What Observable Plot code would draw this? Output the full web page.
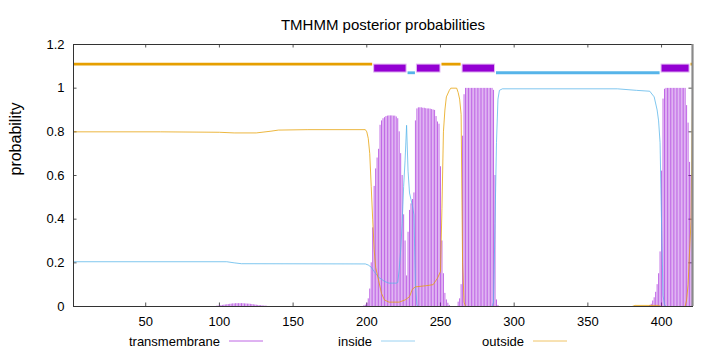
<!DOCTYPE html>
<html><head><meta charset="utf-8">
<script src="https://cdn.jsdelivr.net/npm/d3@7"></script>
<script src="https://cdn.jsdelivr.net/npm/@observablehq/plot@0.6"></script>
<style>body{margin:0;background:#fff;} #chart{width:720px;height:352px;}</style>
</head><body><div id="chart"></div>
<script>
// ---- data ----
const titleText = "TMHMM posterior probabilities";
const yLabelText = "probability";
const seqLength = 421;
const xTicks = [50, 100, 150, 200, 250, 300, 350, 400];
const yTicks = [0, 0.2, 0.4, 0.6, 0.8, 1, 1.2];

const seriesNames = ["transmembrane", "inside", "outside"];
const seriesColors = ["#9400d3", "#56b4e9", "#e69f00"];

// transmembrane posterior (impulses), given per residue in the non-zero stretches
const tmBumpStart = 98;
const tmBump = [0.001,0.002,0.003,0.004,0.005,0.006,0.007,0.008,0.009,0.010,
  0.011,0.012,0.012,0.013,0.013,0.013,0.013,0.013,0.013,0.012,
  0.012,0.011,0.011,0.010,0.009,0.008,0.007,0.006,0.005,0.004,
  0.004,0.003,0.002,0.002,0.001];
const tmCoreStart = 198;
const tmCore = [
  0.003,0.006,0.015,0.035,0.08,0.2,0.36,0.55,0.63,0.68,      // 198-207
  0.72,0.83,0.85,0.86,0.865,0.87,0.872,0.873,0.873,0.873,    // 208-217
  0.872,0.872,0.868,0.86,0.8,0.7,0.6,0.42,0.3,0.14,          // 218-227
  0.34,0.44,0.47,0.49,0.52,0.85,0.905,0.91,0.91,0.91,        // 228-237
  0.908,0.908,0.906,0.905,0.905,0.904,0.902,0.9,0.898,0.87,  // 238-247
  0.845,0.835,0.64,0.3,0.15,0.06,0.03,0.015,0.005,0,         // 248-257
  0,0,0,0,0.02,0.035,0.1,0.78,0.97,0.999,                    // 258-267
  0.999,0.999,0.999,0.999,0.999,0.999,0.999,0.999,0.999,0.999, // 268-277
  0.999,0.999,0.999,0.999,0.999,0.999,0.999,0.999,0.99,0.6,  // 278-287
  0.03,0.005,0,0,0,0,0,0,0,0,0,0,0                           // 288-300
];
const tmTailStart = 392;
const tmTail = [
  0.005,0.01,0.025,0.04,0.065,0.1,0.15,0.25,0.62,0.95,       // 392-401
  0.995,0.999,0.999,0.999,0.999,0.999,0.999,0.999,0.999,0.999, // 402-411
  0.999,0.999,0.999,0.999,0.999,0.92,0.84,0.66,0.6,0.03      // 412-421
];

// inside / outside posterior curves (residue, probability)
const insidePos = [1,105,110,115,199,201,203,205,208,212,215,220,221,222,223,224,225,226,227,228,229,230,231,232,233,234,235,285,286,287,288,289,290,292,370,383,392,395,397,398,399,400,401,402,403,421];
const insideVal = [0.205,0.205,0.2,0.196,0.195,0.19,0.18,0.16,0.134,0.115,0.107,0.107,0.11,0.17,0.26,0.38,0.55,0.67,0.83,0.62,0.52,0.49,0.46,0.42,0.1,0.01,0,0,0.02,0.38,0.75,0.95,0.99,0.997,0.997,0.99,0.986,0.96,0.9,0.85,0.75,0.38,0.05,0.01,0,0];
const outsidePos = [1,60,100,110,125,135,140,160,199,200,201,202,203,204,205,206,208,210,212,215,222,226,229,231,233,240,245,248,250,251,252,253,254,256,257,261,262,263,264,265,266,267,380,382,398,400,416,417,418,419,420,421];
const outsideVal = [0.8,0.8,0.798,0.795,0.795,0.803,0.808,0.81,0.81,0.8,0.77,0.7,0.55,0.4,0.26,0.18,0.12,0.06,0.03,0.02,0.02,0.03,0.045,0.08,0.09,0.095,0.1,0.13,0.16,0.45,0.8,0.9,0.96,0.99,1.0,1.0,0.98,0.95,0.88,0.2,0.02,0,0,0.005,0.005,0,0,0.03,0.1,0.25,0.39,0.97];

// predicted topology (top bar)
const segType  = ["outside","TMhelix","inside","TMhelix","outside","TMhelix","inside","TMhelix","outside"];
const segStart = [1, 205, 228, 234, 251, 265, 288, 400, 420];
const segEnd   = [204, 227, 233, 250, 264, 287, 399, 419, 421];

// ---- build tables ----
function tmValue(i) {
  for (const [s, arr] of [[tmBumpStart, tmBump], [tmCoreStart, tmCore], [tmTailStart, tmTail]]) {
    if (i >= s && i < s + arr.length) return arr[i - s];
  }
  return 0;
}
const tmData = d3.range(1, seqLength + 1).map(i => ({pos: i, p: tmValue(i)}));
const insideData = insidePos.map((x, i) => ({pos: x, p: insideVal[i]}));
const outsideData = outsidePos.map((x, i) => ({pos: x, p: outsideVal[i]}));
const segs = segType.map((t, i) => ({type: t, start: segStart[i], end: segEnd[i]}));
const colorOf = {TMhelix: seriesColors[0], inside: seriesColors[1], outside: seriesColors[2]};
const levelOf = {inside: 1.0705, outside: 1.11};

const xMin = 1, xMax = seqLength;
const xTickLen = 2.4, yTickLen = 0.016;

const chart = Plot.plot({
  width: 720,
  height: 352,
  marginTop: 44,
  marginBottom: 46,
  marginLeft: 73,
  marginRight: 28,
  style: {fontFamily: "'Liberation Sans', Arial, sans-serif", fontSize: "13px", background: "#fff", color: "#000"},
  x: {domain: [xMin, xMax]},
  y: {domain: [0, 1.2]},
  marks: [
    Plot.axisX(xTicks, {tickSize: 0, tickPadding: 10, label: null, fontSize: 13}),
    Plot.axisY(yTicks, {tickSize: 0, tickPadding: 9, label: null, fontSize: 13,
      tickFormat: d => String(+d.toFixed(1))}),
    // inward tick marks (bottom/top/left/right)
    Plot.ruleX(xTicks, {y1: 0, y2: yTickLen, stroke: "#555"}),
    Plot.ruleX(xTicks, {y1: 1.2, y2: 1.2 - yTickLen, stroke: "#555"}),
    Plot.ruleY(yTicks.slice(1, -1), {x1: xMin, x2: xMin + xTickLen, stroke: "#555"}),
    Plot.ruleY(yTicks.slice(1, -1), {x1: xMax, x2: xMax - xTickLen, stroke: "#555"}),
    // transmembrane impulses
    Plot.ruleX(tmData, {x: "pos", y1: 0, y2: "p", stroke: seriesColors[0], strokeWidth: 1, strokeOpacity: 0.6}),
    // inside / outside curves
    Plot.line(insideData, {x: "pos", y: "p", stroke: seriesColors[1], strokeWidth: 1, strokeOpacity: 0.75}),
    Plot.line(outsideData, {x: "pos", y: "p", stroke: seriesColors[2], strokeWidth: 1, strokeOpacity: 0.75}),
    // topology bar
    Plot.ruleY(segs.filter(d => d.type !== "TMhelix"), {
      y: d => levelOf[d.type], x1: "start", x2: "end",
      stroke: d => colorOf[d.type], strokeWidth: 2.8
    }),
    Plot.rect(segs.filter(d => d.type === "TMhelix"), {
      x1: "start", x2: "end", y1: 1.0715, y2: 1.108,
      fill: seriesColors[0], stroke: "#e2b8f2", strokeWidth: 1
    }),
    Plot.frame({stroke: "#333"}),
    Plot.ruleX([xMax], {stroke: "#8a8a8a", strokeWidth: 2.2}),
    Plot.text([titleText], {frameAnchor: "top", dy: -25, fontSize: 15}),
    Plot.text([yLabelText], {frameAnchor: "left", dx: -58, rotate: -90, fontSize: 16})
  ]
});
document.getElementById("chart").appendChild(chart);

// legend below the plot
const svg = d3.select(chart);
const legendX = [220, 372, 524];
const legendY = 341;
const leg = svg.append("g").attr("font-size", 13);
seriesNames.forEach((name, i) => {
  leg.append("text").attr("x", legendX[i]).attr("y", legendY).attr("dy", "0.35em")
    .attr("text-anchor", "end").attr("fill", "#000").text(name);
  leg.append("line").attr("x1", legendX[i] + 9).attr("x2", legendX[i] + 43)
    .attr("y1", legendY).attr("y2", legendY)
    .attr("stroke", seriesColors[i]).attr("stroke-opacity", 0.6).attr("stroke-width", 1);
});
</script>
</body></html>
